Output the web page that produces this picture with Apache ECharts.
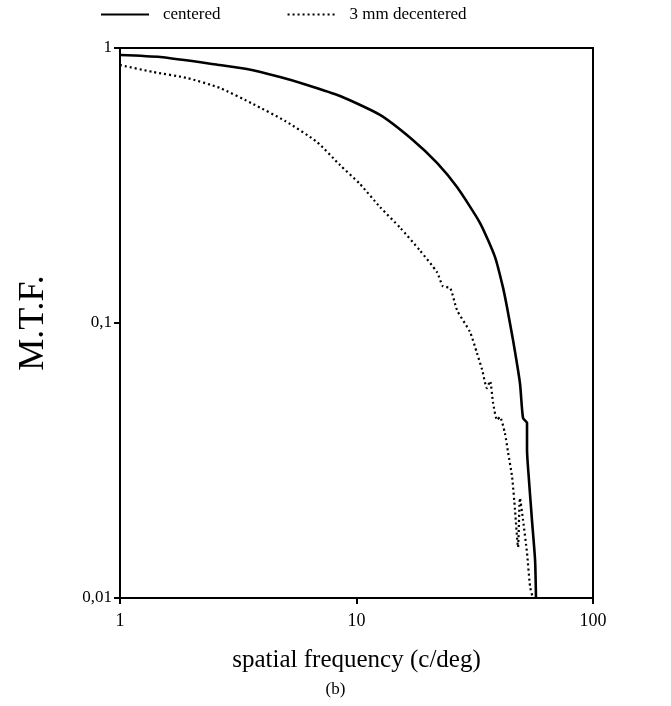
<!DOCTYPE html>
<html>
<head>
<meta charset="utf-8">
<script src="https://cdn.jsdelivr.net/npm/echarts@6/dist/echarts.min.js"></script>
<style>html,body{margin:0;padding:0;background:#fff}#c{width:671px;height:706px}</style>
</head>
<body>
<div id="c"></div>
<script>
// spatial frequency (c/deg) and M.T.F. values
var centeredFreq = [1, 1.48, 2.65, 3.44, 4.75, 6.18, 8.52, 12.57, 17.3, 21.9, 26.6, 33.3, 38.5, 41.6, 43.3, 45.9, 49.1, 50.6, 52.6, 52.6, 53.6, 55.2, 56.9, 57.4];
var centeredMTF  = [0.943, 0.927, 0.867, 0.839, 0.784, 0.734, 0.669, 0.571, 0.463, 0.382, 0.312, 0.231, 0.174, 0.135, 0.114, 0.0867, 0.0605, 0.0451, 0.0433, 0.0345, 0.0269, 0.0192, 0.0137, 0.0100];

var decenteredFreq = [1, 1.38, 1.92, 2.65, 3.65, 4.99, 6.81, 8.52, 10.35, 12.57, 15.3, 18.5, 21.9, 23.2, 24.9, 26.6, 30.2, 32.3, 34.0, 35.6, 36.7, 37.8, 39.3, 40.4, 42.4, 43.7, 45.5, 46.8, 48.2, 49.1, 50.6, 52.6, 54.2, 55.7];
var decenteredMTF  = [0.867, 0.818, 0.778, 0.715, 0.626, 0.543, 0.455, 0.375, 0.320, 0.264, 0.222, 0.184, 0.153, 0.136, 0.134, 0.1115, 0.0927, 0.0778, 0.0675, 0.058, 0.0615, 0.0512, 0.0444, 0.0455, 0.0398, 0.034, 0.0275, 0.0209, 0.0153, 0.0231, 0.0192, 0.0146, 0.011, 0.0100];

var seriesNames = ['centered', '3 mm decentered'];
var xTickLabels = {1: '1', 10: '10', 100: '100'};
var yTickLabels = {1: '1', 0.1: '0,1', 0.01: '0,01'};

function pairs(xs, ys) { return xs.map(function (x, i) { return [x, ys[i]]; }); }
function lookup(map, v) {
  var keys = Object.keys(map);
  for (var i = 0; i < keys.length; i++) {
    var k = parseFloat(keys[i]);
    if (Math.abs(Math.log10(v) - Math.log10(k)) < 1e-6) return map[keys[i]];
  }
  return '';
}

var font = '"Liberation Serif", "DejaVu Serif", serif';
var chart = echarts.init(document.getElementById('c'), null, {renderer: 'canvas'});
chart.setOption({
  animation: false,
  backgroundColor: '#fff',
  textStyle: {fontFamily: font, color: '#000'},
  grid: {left: 120, right: 78, top: 48, bottom: 108, show: true, borderColor: '#000', borderWidth: 2, containLabel: false},
  legend: {
    left: 100, top: 6, padding: 0, itemWidth: 48, itemHeight: 16, itemGap: 66,
    data: seriesNames,
    itemStyle: {opacity: 0},
    textStyle: {fontFamily: font, fontSize: 17, color: '#000', padding: [0, 0, 0, 9]}
  },
  xAxis: {
    type: 'log', logBase: 10, min: 1, max: 100,
    name: 'spatial frequency (c/deg)', nameLocation: 'middle', nameGap: 50,
    nameTextStyle: {fontFamily: font, fontSize: 25, color: '#000'},
    axisLine: {lineStyle: {color: '#000', width: 2}},
    axisTick: {show: true, inside: false, length: 6, lineStyle: {color: '#000', width: 2}},
    minorTick: {show: false},
    splitLine: {show: false},
    axisLabel: {fontFamily: font, fontSize: 18, color: '#000', margin: 14, formatter: function (v) { return lookup(xTickLabels, v); }}
  },
  yAxis: {
    type: 'log', logBase: 10, min: 0.01, max: 1,
    name: 'M.T.F.', nameLocation: 'middle', nameGap: 68, nameRotate: 90,
    nameTextStyle: {fontFamily: font, fontSize: 36, color: '#000'},
    axisLine: {lineStyle: {color: '#000', width: 2}},
    axisTick: {show: true, inside: false, length: 6, lineStyle: {color: '#000', width: 2}},
    splitLine: {show: false},
    axisLabel: {fontFamily: font, fontSize: 17, color: '#000', margin: 8, formatter: function (v) { return lookup(yTickLabels, v); }}
  },
  graphic: [{
    type: 'text', left: 'center', top: 681,
    style: {text: '(b)', font: '17px ' + font, fill: '#000'}
  }],
  series: [
    {
      name: seriesNames[0], type: 'line', data: pairs(centeredFreq, centeredMTF),
      symbol: 'none', smooth: 0.2, lineStyle: {color: '#000', width: 2.6, type: 'solid'},
      itemStyle: {color: '#000'}
    },
    {
      name: seriesNames[1], type: 'line', data: pairs(decenteredFreq, decenteredMTF),
      symbol: 'none', smooth: 0.2, lineStyle: {color: '#000', width: 2.2, type: [2, 3]},
      itemStyle: {color: '#000'}
    }
  ]
});
</script>
</body>
</html>
